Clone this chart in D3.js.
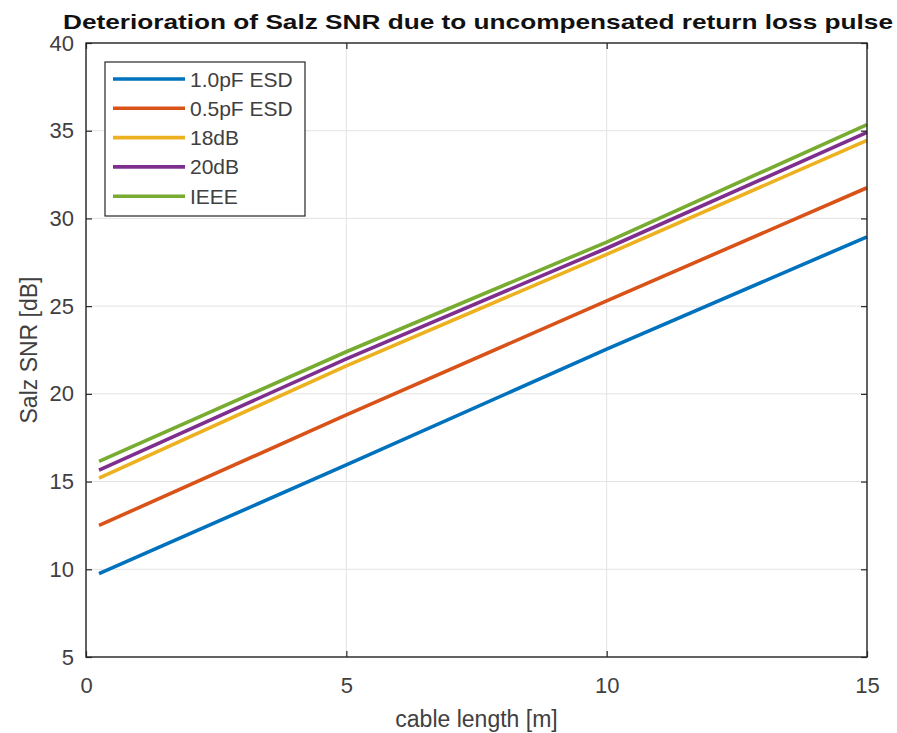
<!DOCTYPE html>
<html>
<head>
<meta charset="utf-8">
<script src="https://cdn.jsdelivr.net/npm/d3@7"></script>
<style>
  html, body { margin: 0; padding: 0; background: #fff; }
  svg { display: block; font-family: "Liberation Sans", Arial, Helvetica, sans-serif; }
</style>
</head>
<body>
<svg id="chart" width="897" height="733"></svg>
<script>
// Cable length samples [m]
const cableLength = [0.25, 5, 10, 15];

// Salz SNR [dB] per return-loss case
const snr10pF = [9.75, 15.95, 22.55, 28.95];
const snr05pF = [12.5, 18.8, 25.3, 31.75];
const snr18dB = [15.2, 21.6, 27.95, 34.45];
const snr20dB = [15.65, 22.0, 28.3, 34.9];
const snrIEEE = [16.15, 22.4, 28.65, 35.35];

const seriesNames = ["1.0pF ESD", "0.5pF ESD", "18dB", "20dB", "IEEE"];
const seriesColors = ["#0072BD", "#D95319", "#EDB120", "#7E2F8E", "#77AC30"];
const seriesValues = [snr10pF, snr05pF, snr18dB, snr20dB, snrIEEE];

const xTicks = [0, 5, 10, 15];
const yTicks = [5, 10, 15, 20, 25, 30, 35, 40];

const titleText = "Deterioration of Salz SNR due to uncompensated return loss pulse";
const xLabel = "cable length [m]";
const yLabel = "Salz SNR [dB]";

const svg = d3.select("#chart");
const plot = { left: 86, right: 867, top: 43, bottom: 657 };

const x = d3.scaleLinear().domain([0, 15]).range([plot.left, plot.right]);
const y = d3.scaleLinear().domain([5, 40]).range([plot.bottom, plot.top]);

const axisColor = "#262626";
const textColor = "#404040";

// Grid lines
const grid = svg.append("g").attr("stroke", "#e3e3e3").attr("stroke-width", 1);
grid.selectAll("line.gx").data(xTicks).join("line")
  .attr("x1", d => x(d)).attr("x2", d => x(d))
  .attr("y1", plot.top).attr("y2", plot.bottom);
grid.selectAll("line.gy").data(yTicks).join("line")
  .attr("x1", plot.left).attr("x2", plot.right)
  .attr("y1", d => y(d)).attr("y2", d => y(d));

// Data lines
const line = d3.line().x((d, i) => x(cableLength[i])).y(d => y(d));
svg.append("g").selectAll("path").data(seriesValues).join("path")
  .attr("d", d => line(d))
  .attr("fill", "none")
  .attr("stroke", (d, i) => seriesColors[i])
  .attr("stroke-width", 3.6);

// Axes with inward ticks on all four sides
function styleAxis(g) {
  g.selectAll(".domain").remove();
  g.selectAll(".tick line").attr("stroke", axisColor).attr("stroke-width", 1.2);
  g.selectAll(".tick text").attr("fill", textColor)
    .style("font-family", "'Liberation Sans', Arial, sans-serif");
}

svg.append("g").attr("transform", `translate(0,${plot.bottom})`)
  .call(d3.axisBottom(x).tickValues(xTicks).tickSize(-6).tickPadding(20).tickFormat(d3.format("d")))
  .call(styleAxis)
  .call(g => g.selectAll(".tick text").attr("font-size", 22));

svg.append("g").attr("transform", `translate(${plot.left},0)`)
  .call(d3.axisLeft(y).tickValues(yTicks).tickSize(-6).tickPadding(12).tickFormat(d3.format("d")))
  .call(styleAxis)
  .call(g => g.selectAll(".tick text").attr("font-size", 22));

svg.append("g").attr("transform", `translate(0,${plot.top})`)
  .call(d3.axisTop(x).tickValues(xTicks).tickSize(-6).tickFormat(""))
  .call(styleAxis);

svg.append("g").attr("transform", `translate(${plot.right},0)`)
  .call(d3.axisRight(y).tickValues(yTicks).tickSize(-6).tickFormat(""))
  .call(styleAxis);

// Axes box
svg.append("rect")
  .attr("x", plot.left).attr("y", plot.top)
  .attr("width", plot.right - plot.left).attr("height", plot.bottom - plot.top)
  .attr("fill", "none").attr("stroke", axisColor).attr("stroke-width", 1.4);

// Title
svg.append("text")
  .attr("x", 478).attr("y", 29)
  .attr("text-anchor", "middle")
  .attr("font-size", 21).attr("font-weight", "bold").attr("fill", "#111")
  .attr("textLength", 830).attr("lengthAdjust", "spacingAndGlyphs")
  .text(titleText);

// Axis labels
svg.append("text")
  .attr("x", (plot.left + plot.right) / 2).attr("y", 727)
  .attr("text-anchor", "middle").attr("font-size", 23).attr("fill", textColor)
  .text(xLabel);

svg.append("text")
  .attr("transform", `translate(37,${(plot.top + plot.bottom) / 2}) rotate(-90)`)
  .attr("text-anchor", "middle").attr("font-size", 23).attr("fill", textColor)
  .text(yLabel);

// Legend
const legend = { x: 105, y: 62, w: 200, h: 154, rowH: 29.3, firstRow: 17 };
const lg = svg.append("g");
lg.append("rect")
  .attr("x", legend.x).attr("y", legend.y)
  .attr("width", legend.w).attr("height", legend.h)
  .attr("fill", "#fff").attr("stroke", axisColor).attr("stroke-width", 1.2);
const rows = lg.selectAll("g.row").data(seriesNames).join("g")
  .attr("transform", (d, i) => `translate(${legend.x},${legend.y + legend.firstRow + i * legend.rowH})`);
rows.append("line")
  .attr("x1", 8).attr("x2", 80).attr("y1", 0).attr("y2", 0)
  .attr("stroke", (d, i) => seriesColors[i]).attr("stroke-width", 3.6);
rows.append("text")
  .attr("x", 85).attr("y", 0).attr("dy", "0.36em")
  .attr("font-size", 21).attr("fill", textColor)
  .text(d => d);
</script>
</body>
</html>
